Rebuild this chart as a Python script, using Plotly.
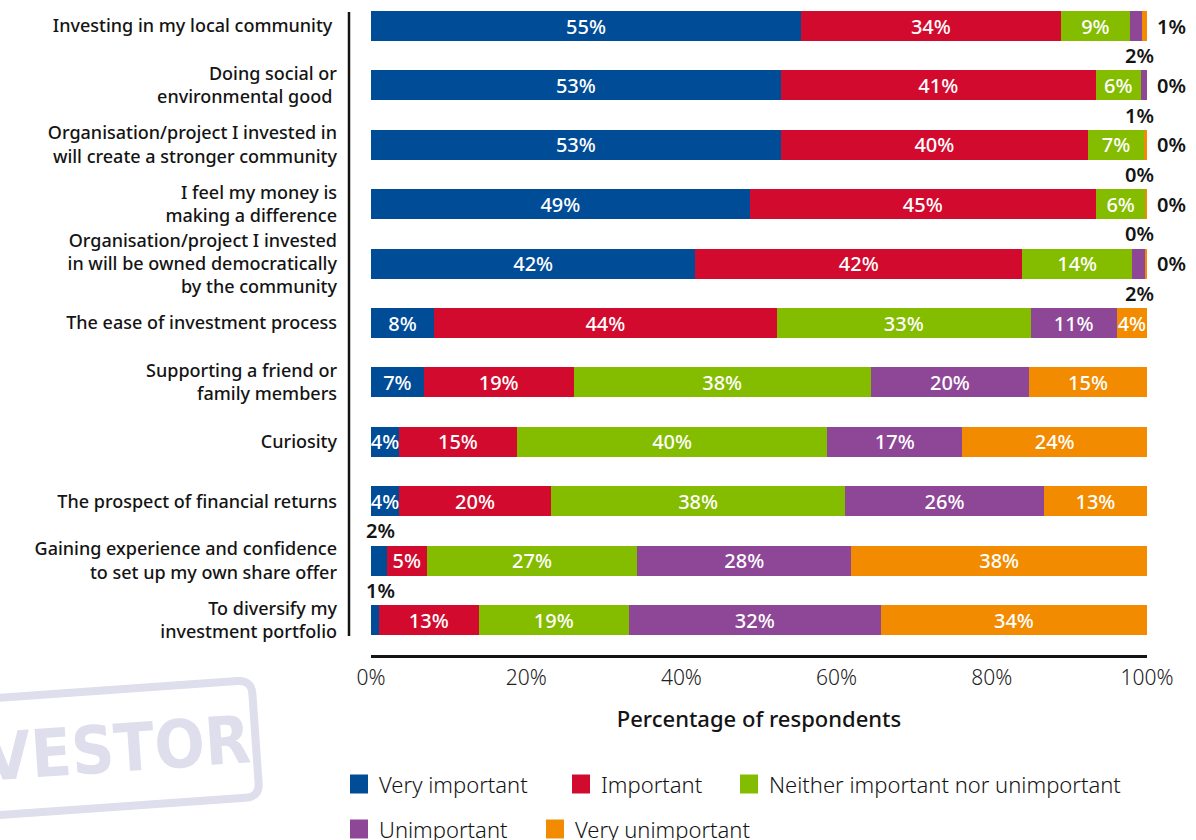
import math
import plotly.graph_objects as go

# Survey: importance of each motivation for investing (share of respondents, %)
categories = [
    "Investing in my local community\u00a0",
    "Doing social or<br>environmental good\u00a0",
    "Organisation/project I invested in<br>will create a stronger community",
    "I feel my money is<br>making a difference",
    "Organisation/project I invested<br>in will be owned democratically<br>by the community",
    "The ease of investment process",
    "Supporting a friend or<br>family members",
    "Curiosity",
    "The prospect of financial returns",
    "Gaining experience and confidence<br>to set up my own share offer",
    "To diversify my<br>investment portfolio",
]

very_important = [55.4, 52.8, 52.8, 48.8, 41.8, 8.1, 6.8, 3.6, 3.6, 2.0, 1.0]
important = [33.5, 40.6, 39.6, 44.6, 42.1, 44.2, 19.3, 15.2, 19.6, 5.2, 12.9]
neither = [8.9, 5.8, 7.2, 6.4, 14.2, 32.7, 38.3, 40.0, 37.9, 27.1, 19.3]
unimportant = [1.6, 0.8, 0.0, 0.0, 1.6, 11.1, 20.4, 17.4, 25.6, 27.6, 32.5]
very_unimportant = [0.6, 0.0, 0.4, 0.2, 0.3, 3.9, 15.2, 23.8, 13.3, 38.1, 34.3]

series_names = [
    "Very important",
    "Important",
    "Neither important nor unimportant",
    "Unimportant",
    "Very unimportant",
]
series_values = [very_important, important, neither, unimportant, very_unimportant]
series_colors = ["#004C97", "#D20A2E", "#84BC00", "#8E4797", "#F28B00"]

x_ticks = [0, 20, 40, 60, 80, 100]
x_tick_labels = ["0%", "20%", "40%", "60%", "80%", "100%"]

FONT = "Noto Sans"
INK = "#141414"
SMALL = 3  # segments narrower than this get their label outside the bar

# page geometry (pixels)
FIG_W, FIG_H = 1196, 840
PL, PR, PT, PB = 371, 1147, 0, 655
ROW0, ROW_STEP = 26, 59.4


def paper(px, py):
    return (px - PL) / (PR - PL), (PB - py) / (PB - PT)


def pct(v):
    return f"{v:.0f}%"


fig = go.Figure()
for name, vals, color in zip(series_names, series_values, series_colors):
    fig.add_trace(go.Bar(
        y=categories,
        x=vals,
        orientation="h",
        name=name,
        width=0.505,
        marker=dict(color=color, line=dict(width=0)),
        text=[pct(v) if v >= SMALL else "" for v in vals],
        textposition="inside",
        insidetextanchor="middle",
        constraintext="none",
        textangle=0,
        textfont=dict(color="white", size=20, family=FONT, weight=500),
        hovertemplate="%{y}: %{x:.0f}%<extra>" + name + "</extra>",
        showlegend=False,
    ))

annotations = []
LABEL_FONT = dict(size=20, color=INK, family=FONT, weight=600)
n = len(categories)
for i in range(n):
    # tiny "very important" shares: label above the bar, at its left end
    v = very_important[i]
    if v < SMALL:
        annotations.append(dict(
            x=0, y=i - 0.5, xref="x", yref="y", text=pct(v), showarrow=False,
            xanchor="left", yanchor="middle", xshift=-7, font=LABEL_FONT))
    # tiny "unimportant" shares: label below the bar, near its right end
    v = unimportant[i]
    if v < SMALL:
        annotations.append(dict(
            x=100, y=i + 0.5, xref="x", yref="y", text=pct(v), showarrow=False,
            xanchor="center", yanchor="middle", xshift=-8, font=LABEL_FONT))
    # tiny "very unimportant" shares: label to the right of the bar
    v = very_unimportant[i]
    if v < SMALL:
        annotations.append(dict(
            x=100, y=i, xref="x", yref="y", text=pct(v), showarrow=False,
            xanchor="left", yanchor="middle", xshift=8, font=LABEL_FONT))

shapes = []

# vertical rule beside the category labels
x0, y0 = paper(349, 636)
_, y1 = paper(349, 12)
shapes.append(dict(type="line", xref="paper", yref="paper", x0=x0, x1=x0, y0=y0, y1=y1,
                   line=dict(color=INK, width=2.5)))

# legend, laid out in two rows under the axis title
legend_pos = [(350, 784), (572, 784), (740, 784), (350, 829), (546, 829)]
for (lx, ly), name, color in zip(legend_pos, series_names, series_colors):
    ax0, ay0 = paper(lx, ly + 9.5)
    ax1, ay1 = paper(lx + 18, ly - 9.5)
    shapes.append(dict(type="rect", xref="paper", yref="paper", x0=ax0, x1=ax1, y0=ay0, y1=ay1,
                       fillcolor=color, line=dict(width=0)))
    tx, ty = paper(lx + 27, ly)
    annotations.append(dict(x=tx, y=ty, xref="paper", yref="paper", text=name, showarrow=False,
                            xanchor="left", yanchor="middle",
                            font=dict(size=22, color=INK, family=FONT, weight=300)))

# faint "INVESTOR" stamp in the lower left corner
STAMP = "#DEDEEC"
ang = math.radians(4)
ex = (math.cos(ang), -math.sin(ang))
ey = (math.sin(ang), math.cos(ang))
cx, cy, hw, hh, rad = 52, 752.7, 204, 58.5, 14


def stamp_pt(u, v):
    px = cx + u * ex[0] + v * ey[0]
    py = cy + u * ex[1] + v * ey[1]
    x, y = paper(px, py)
    return f"{x:.5f},{y:.5f}"


path = (
    f"M{stamp_pt(-hw + rad, -hh)} L{stamp_pt(hw - rad, -hh)} "
    f"Q{stamp_pt(hw, -hh)} {stamp_pt(hw, -hh + rad)} L{stamp_pt(hw, hh - rad)} "
    f"Q{stamp_pt(hw, hh)} {stamp_pt(hw - rad, hh)} L{stamp_pt(-hw + rad, hh)} "
    f"Q{stamp_pt(-hw, hh)} {stamp_pt(-hw, hh - rad)} L{stamp_pt(-hw, -hh + rad)} "
    f"Q{stamp_pt(-hw, -hh)} {stamp_pt(-hw + rad, -hh)} Z"
)
shapes.append(dict(type="path", xref="paper", yref="paper", path=path,
                   line=dict(color=STAMP, width=8), layer="below"))
sx, sy = paper(82, 751)
annotations.append(dict(x=sx, y=sy, xref="paper", yref="paper", text="INVESTOR", showarrow=False,
                        xanchor="center", yanchor="middle", textangle=-4,
                        font=dict(size=66, color=STAMP, family="DejaVu Sans Condensed", weight=700)))

y_lo = (PB - ROW0) / ROW_STEP
y_hi = -(ROW0 - PT) / ROW_STEP

fig.update_layout(
    width=FIG_W,
    height=FIG_H,
    barmode="stack",
    margin=dict(l=PL, r=FIG_W - PR, t=PT, b=FIG_H - PB, autoexpand=False),
    paper_bgcolor="white",
    plot_bgcolor="white",
    font=dict(family=FONT, color=INK),
    showlegend=False,
    xaxis=dict(
        range=[0, 100],
        tickvals=x_ticks,
        ticktext=x_tick_labels,
        tickfont=dict(size=21, color="#222222", family=FONT, weight=300),
        ticklabelstandoff=2,
        showgrid=False,
        zeroline=False,
        showline=True,
        linecolor=INK,
        linewidth=3,
        ticks="",
        title=dict(text="Percentage of respondents",
                   font=dict(size=22, color=INK, family=FONT, weight=500),
                   standoff=22),
    ),
    yaxis=dict(
        type="category",
        categoryarray=categories,
        range=[y_lo, y_hi],
        tickfont=dict(size=18, color=INK, family=FONT, weight=500),
        ticks="",
        ticklabelstandoff=33,
        showgrid=False,
        zeroline=False,
        showline=False,
    ),
    annotations=annotations,
    shapes=shapes,
)

fig.write_html("out.html")
